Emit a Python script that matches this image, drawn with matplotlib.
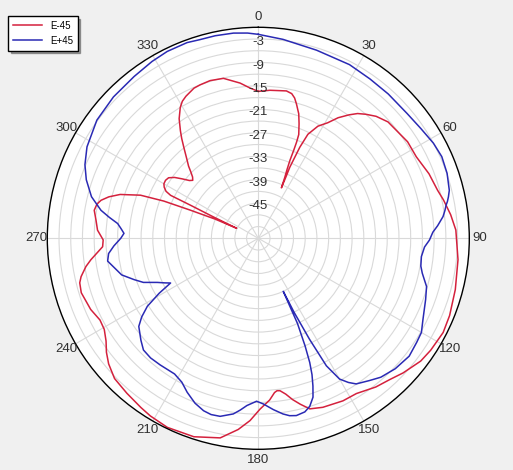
import numpy as np
import matplotlib.pyplot as plt

# E-45 pattern (angle in degrees, gain in dB)
angles_em45 = [0, 4.5, 10.8, 13, 14.5, 15.9, 17, 18.0, 19.6, 20.6, 21.3, 21.7, 21.9, 22.1, 22.7,
               23.5, 24.6, 24.2, 23.9, 24.5, 25.5, 28.0, 31.0, 33.5, 36.3, 38.5, 40.9, 44, 48.1,
               53.5, 57.1, 62.7, 69.3, 75, 78.3, 83, 87.6, 96.1, 104.6, 112, 117, 123, 127.1,
               132.9, 137, 141.7, 147.7, 152.5, 159.1, 163.2, 165.8, 168.0, 170, 171.9, 173, 174.0,
               176, 179.4, 182.6, 186, 190.8, 198, 205.7, 211.3, 214.8, 220.3, 225.7, 230, 233.1,
               236, 239.4, 242.7, 247, 252.9, 256, 257.8, 260.7, 262.7, 266.9, 269.4, 272.9, 276.4,
               279.7, 282, 283.6, 285.5, 287.6, 290.1, 291.5, 292.5, 294.0, 294.8, 295.5, 296.0,
               296.1, 297, 298.5, 300, 302.0, 304, 306, 308, 310, 311.5, 313, 314.5, 316, 317.6,
               320.7, 322.5, 324.1, 326.5, 329.2, 331, 333, 336.8, 339.2, 343, 347.7, 353.3,
               356.9, 360]
gain_em45 = [-16.4, -16.0, -15.6, -16.0, -16.9, -18.3, -19.5, -20.5, -22.9, -24.5, -25.5, -27.5,
             -29.5, -32.5, -35.0, -37.0, -39.8, -36.5, -34.1, -28.4, -24.5, -21.5, -19.5, -17.0,
             -14.8, -13.2, -12.0, -10.6, -9.4, -9.0, -8.5, -8.5, -7.3, -6.5, -5.6, -4.4, -3.4,
             -2.6, -1.9, -1.2, -0.9, -1.4, -1.9, -3.4, -4.6, -5.5, -7.0, -7.1, -7.7, -8.4, -10.2,
             -11.8, -13.5, -14.6, -14.7, -14.3, -12.5, -10.3, -7.3, -4.8, -2.0, -0.6, -0.3, -0.8,
             -1.3, -2.0, -2.6, -4.0, -5.4, -7.0, -8.2, -8.4, -7.4, -6.6, -6.9, -7.6, -9.3, -10.8,
             -14.1, -14.3, -12.8, -12.2, -11.4, -11.8, -12.6, -14.3, -16.9, -21.9, -28.0, -35.2,
             -42.0, -47.9, -41.0, -34.7, -29.0, -27.5, -26.6, -26.1, -26.0, -26.3, -27.5, -29.3,
             -31.0, -31.6, -31.0, -29.8, -28.3, -27.0, -23.9, -21.8, -20.0, -17.3, -15.0, -13.9,
             -13.2, -12.2, -12.0, -11.8, -12.1, -14.0, -15.5, -16.4]

# E+45 pattern
angles_ep45 = [0, 7.1, 17.2, 27.7, 35, 42, 50, 56, 61.5, 66, 71.0, 75.9, 77.7, 79, 80, 81.5, 83.3,
               86, 88, 90.6, 93, 96.4, 99.7, 102, 104, 106, 110.1, 116.3, 120, 123.3, 128, 133.6,
               138.6, 142, 146.1, 148, 150.0, 151.9, 153.1, 154.2, 154.8, 155.3, 156.5, 157.5,
               158.5, 159.7, 161, 163.0, 165, 167.9, 170, 172, 175, 178.3, 180.6, 183.9, 186,
               188.1, 192.1, 195, 197.6, 201, 204.8, 208, 211.7, 217.8, 222, 225.8, 229, 233.6,
               236, 238.5, 241, 243.0, 244.5, 246.4, 249, 251.6, 255, 258.9, 261.4, 264.2, 267,
               270, 272.1, 274, 276.0, 278, 280.1, 284, 288.8, 293, 298.1, 306.2, 314.3, 322.5,
               329, 334, 340, 343.5, 348, 353.1, 357, 360]
gain_ep45 = [-1.8, -2.7, -3.6, -3.8, -4.2, -4.3, -4.3, -3.8, -3.0, -2.6, -2.9, -3.6, -4.2, -4.7,
             -5.2, -5.7, -6.4, -8.0, -9.3, -10.2, -11.4, -12.0, -11.8, -11.1, -10.2, -9.2, -8.4,
             -7.0, -5.8, -5.5, -5.0, -5.6, -6.6, -7.8, -9.1, -10.5, -12.4, -17.0, -25.0, -33.0,
             -39.0, -30.0, -24.0, -19.6, -16.5, -13.7, -11.0, -9.0, -8.0, -7.6, -7.9, -8.6,
             -10.0, -11.6, -12.3, -11.1, -9.8, -8.6, -7.4, -7.3, -7.7, -8.8, -10.6, -12.3, -13.2,
             -13.0, -12.8, -13.0, -14.2, -16.0, -18.0, -20.7, -25.0, -28.8, -27.5, -25.8, -22.5,
             -20.5, -17.8, -16.2, -15.0, -15.5, -17.0, -18.8, -19.6, -18.8, -17.8, -15.5, -13.1,
             -10.0, -7.5, -5.8, -4.3, -2.8, -2.2, -1.8, -1.2, -0.8, -0.7, -1.0, -1.0, -1.1, -1.4,
             -1.8]

ring_labels = [-3, -9, -15, -21, -27, -33, -39, -45]
angle_labels = [0, 30, 60, 90, 120, 150, 180, 210, 240, 270, 300, 330]

plt.rcParams['font.family'] = ['Liberation Sans', 'DejaVu Sans']

fig = plt.figure(figsize=(5.13, 4.70), dpi=100, facecolor='#f0f0f0')
ax = fig.add_axes([47.3 / 513, 20.7 / 470, 422 / 513, 422 / 470], projection='polar')
ax.set_facecolor('white')
ax.set_theta_zero_location('N')
ax.set_theta_direction(-1)
ax.set_ylim(-54, 0)

ax.set_yticks(np.arange(-51, 0, 3))
ax.set_yticklabels([])
ax.set_xticks(np.deg2rad(np.arange(0, 360, 30)))
ax.set_xticklabels([])
ax.grid(color='#d9d9d9', lw=0.8)
ax.spines['polar'].set_color('black')
ax.spines['polar'].set_linewidth(1.0)

ax.plot(np.deg2rad(angles_em45), gain_em45, color='#d4213d', lw=1.1, label='E-45')
ax.plot(np.deg2rad(angles_ep45), gain_ep45, color='#2a2ab4', lw=1.1, label='E+45')

for v in ring_labels:
    ax.text(0, v - 0.8, str(v), ha='center', va='center', fontsize=9.5, color='#303030')
for a in angle_labels:
    ax.text(np.deg2rad(a), 2.7, str(a), ha='center', va='center', fontsize=9.5,
            color='#303030', clip_on=False)

fig.legend(loc='upper left', bbox_to_anchor=(8 / 513, 1 - 16 / 470), fontsize=7,
           fancybox=False, edgecolor='black', shadow=True, framealpha=1,
           borderpad=0.5, handlelength=3.0, borderaxespad=0)

fig.savefig('out.png', dpi=100, facecolor=fig.get_facecolor())
